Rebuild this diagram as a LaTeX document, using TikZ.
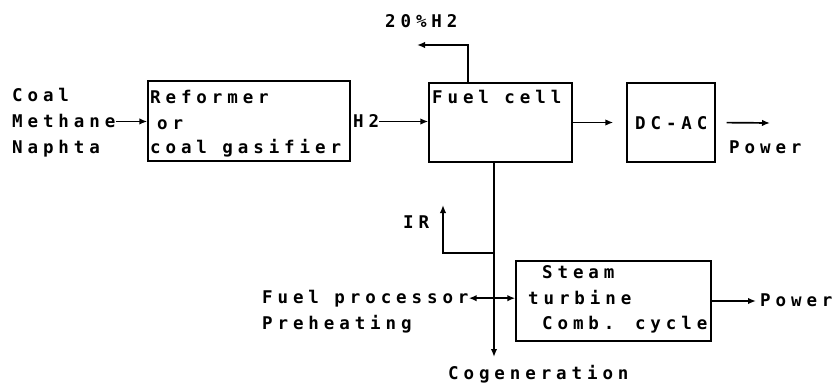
\documentclass[tikz,border=0pt]{standalone}
\usepackage{fontspec}
\newfontfamily\plotfont{DejaVu Sans Mono}[LetterSpace=28]
\usetikzlibrary{arrows.meta, calc}
\tikzset{
  >={Latex[length=8pt, width=6.5pt]},
  blk/.style={draw, line width=1.4pt, inner sep=0pt},
  lab/.style={font=\plotfont\bfseries\fontsize{17.5}{25}\selectfont, anchor=base west, inner sep=0pt},
  flow/.style={->, line width=1.7pt},
}
\begin{document}
\begin{tikzpicture}[x=1pt, y=-1pt]
  \useasboundingbox (0,0) rectangle (834,385);
  % blocks
  \node[blk, minimum width=202pt, minimum height=80pt] (ref) at (249,121) {};
  \node[blk, minimum width=143pt, minimum height=79pt] (fc) at (500.5,122.5) {};
  \node[blk, minimum width=88pt, minimum height=79pt] (dcac) at (671,122.5) {};
  \node[blk, minimum width=195pt, minimum height=80pt] (st) at (613.5,301) {};
  % feeds
  \node[lab] (coal) at (12,102) {Coal};
  \node[lab] (meth) at (12,128) {Methane};
  \node[lab] (naph) at (12,153) {Naphta};
  % block texts
  \node[lab] (ref1) at (150,103) {Reformer};
  \node[lab] (ref2) at (157,129) {or};
  \node[lab] (ref3) at (150,153) {coal gasifier};
  \node[lab] (fctxt) at (432,103) {Fuel cell};
  \node[lab] (dctxt) at (635,129) {DC-AC};
  \node[lab] (st1) at (542,278) {Steam};
  \node[lab] (st2) at (528,304) {turbine};
  \node[lab] (st3) at (542,329) {Comb. cycle};
  % stream labels
  \node[lab] (h2) at (353,128) {H2};
  \node[lab] (h2out) at (385,28) {20\%H2};
  \node[lab] (pw1) at (729,153) {Power};
  \node[lab] (ir) at (403,228) {IR};
  \node[lab] (fp1) at (262,303) {Fuel processor};
  \node[lab] (fp2) at (262,329) {Preheating};
  \node[lab] (pw2) at (760,306) {Power};
  \node[lab] (cog) at (448,379) {Cogeneration};
  % free ends
  \coordinate (exhup) at (468,45);
  \coordinate (exh) at (417,45);
  \coordinate (pwend) at (770,123);
  \coordinate (cogtip) at (494,357);
  \coordinate (irjoin) at (494,253);
  \coordinate (irtip) at (443,205);
  % connectors
  \draw[flow] (meth.east) -- (meth.east -| ref.west);
  \draw[flow] (h2.east) -- (h2.east -| fc.west);
  \draw[flow, shorten >=13pt] (fc.east) -- (dcac.west);
  \draw[flow, shorten <=11pt] (dcac.east) -- (pwend);
  \draw[flow, line width=2pt] (fc.north -| exhup) -- (exhup) -- (exh);
  \draw[flow] (fc.south -| cogtip) -- (cogtip);
  \draw[flow, line width=2pt] (irjoin) -| (irtip);
  \draw[flow, <->] (fp1.east) -- (fp1.east -| st.west);
  \draw[flow, shorten >=4pt] (st.east) -- (st.east -| pw2.west);
\end{tikzpicture}
\end{document}
